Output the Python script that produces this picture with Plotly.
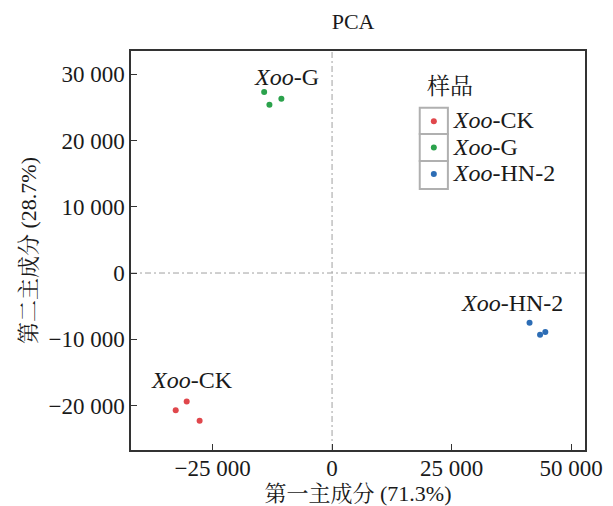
import plotly.graph_objects as go

groups = ["Xoo-CK", "Xoo-G", "Xoo-HN-2"]
legend_names = ["<i>Xoo</i>-CK", "<i>Xoo</i>-G", "<i>Xoo</i>-HN-2"]
colors = ["#e0474c", "#2ba24c", "#2d6db5"]
pc1 = [
    [-32700, -30400, -27700],
    [-14200, -10600, -13100],
    [41300, 43500, 44600],
]
pc2 = [
    [-20700, -19400, -22300],
    [27300, 26300, 25400],
    [-7500, -9300, -8900],
]
label_x = [-29200, -9500, 37600]
label_y = [-16200, 29600, -4500]

FONT = "Liberation Serif, Times New Roman, Noto Serif CJK SC, Noto Sans CJK SC, serif"
TXT = "#1a1a1a"

fig = go.Figure()
for i, g in enumerate(groups):
    fig.add_trace(go.Scatter(
        x=pc1[i], y=pc2[i], mode="markers",
        name='<span style="font-size:24px">' + legend_names[i] + "</span>",
        marker=dict(color=colors[i], size=6),
    ))
    fig.add_annotation(x=label_x[i], y=label_y[i], text=legend_names[i],
                       xanchor="center", yanchor="middle",
                       showarrow=False, font=dict(size=24, color=TXT))

# legend title
fig.add_annotation(x=0.703, y=0.912, xref="paper", yref="paper", text="样品",
                   xanchor="center", yanchor="middle",
                   showarrow=False, font=dict(size=23, color=TXT))

fig.add_shape(type="line", x0=0, x1=0, y0=0, y1=1, xref="x", yref="paper",
              line=dict(color="#a0a0a0", width=1, dash="6px,3px,2px,3px"), layer="below")
fig.add_shape(type="line", x0=0, x1=1, y0=0, y1=0, xref="paper", yref="y",
              line=dict(color="#a0a0a0", width=1, dash="6px,3px,2px,3px"), layer="below")

# boxes around legend symbols
box_x0, box_x1 = 0.636, 0.698
box_edges = [0.858, 0.792, 0.724, 0.654]
for k in range(3):
    fig.add_shape(type="rect", xref="paper", yref="paper",
                  x0=box_x0, x1=box_x1, y0=box_edges[k + 1], y1=box_edges[k],
                  line=dict(color="#b0b0b0", width=2), layer="below")

fig.update_layout(
    width=613, height=506,
    margin=dict(l=131, r=28, t=51, b=56),
    plot_bgcolor="white", paper_bgcolor="white",
    separators=". ",
    font=dict(family=FONT, size=23, color=TXT),
    title=dict(text="PCA", x=0.576, xanchor="center", y=0.957, yanchor="middle",
               font=dict(size=22)),
    showlegend=True,
    legend=dict(x=0.623, y=0.757, xanchor="left", yanchor="middle",
                font=dict(size=18), bgcolor="rgba(0,0,0,0)",
                tracegroupgap=0, itemwidth=30),
    xaxis=dict(range=[-42050, 52900], tickvals=[-25000, 0, 25000, 50000],
               tickformat=",d", ticks="inside", ticklen=6, tickcolor="#333",
               showline=True, linecolor="#333", linewidth=1.5, mirror=True,
               showgrid=False, zeroline=False, tickfont=dict(size=23),
               automargin=False, ticklabelstandoff=-3,
               title=dict(text="第一主成分 (71.3%)", standoff=5, font=dict(size=22))),
    yaxis=dict(range=[-26700, 33500], tickvals=[-20000, -10000, 0, 10000, 20000, 30000],
               tickformat=",d", ticks="inside", ticklen=6, tickcolor="#333",
               showline=True, linecolor="#333", linewidth=1.5, mirror=True,
               showgrid=False, zeroline=False, tickfont=dict(size=23),
               automargin=False,
               title=dict(text="第二主成分 (28.7%)", standoff=6, font=dict(size=22))),
)

fig.write_html("out.html")
